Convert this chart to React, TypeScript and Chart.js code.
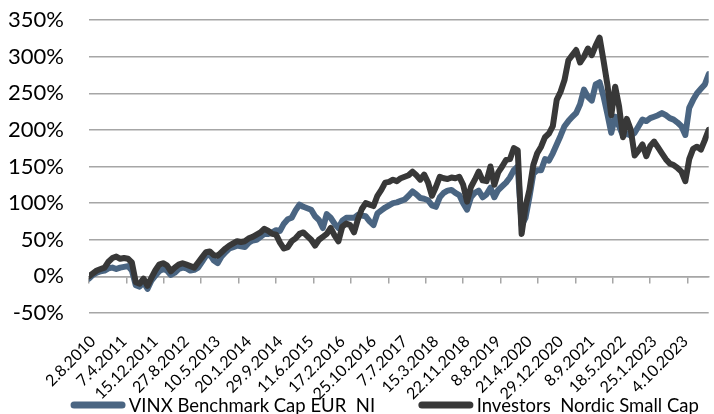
import React, { useEffect, useRef } from "react";
import { Chart, registerables } from "chart.js";

Chart.register(...registerables);

// ---- data ----
const tickLabels = [
  "2.8.2010", "7.4.2011", "15.12.2011", "27.8.2012", "10.5.2013",
  "20.1.2014", "29.9.2014", "11.6.2015", "17.2.2016", "25.10.2016",
  "7.7.2017", "15.3.2018", "22.11.2018", "8.8.2019", "21.4.2020",
  "29.12.2020", "8.9.2021", "18.5.2022", "25.1.2023", "4.10.2023",
];

const seriesNames = ["VINX Benchmark Cap EUR  NI", "Investors  Nordic Small Cap"];

// roughly monthly observations (8 per labelled interval), in %
const vinxValues = [
  -3, 2, 5, 7, 8, 11, 12, 10, 12, 13,
  14, 8, -12, -14, -8, -17, -6, 1, 7, 10,
  8, 2, 5, 10, 12, 11, 8, 9, 12, 20,
  28, 30, 22, 18, 27, 33, 38, 40, 42, 41,
  40, 46, 49, 50, 54, 58, 58, 60, 63, 62,
  72, 78, 80, 90, 98, 95, 93, 91, 82, 77,
  66, 85, 80, 72, 66, 76, 80, 80, 80, 84,
  83, 82, 75, 70, 86, 90, 94, 97, 100, 101,
  103, 105, 110, 116, 112, 107, 106, 104, 97, 95,
  108, 114, 117, 118, 114, 111, 100, 91, 108, 114,
  117, 108, 112, 121, 108, 118, 123, 128, 135, 145,
  150, 70, 80, 108, 140, 145, 145, 160, 158, 168,
  180, 192, 205, 212, 218, 223, 235, 255, 245, 240,
  262, 265, 246, 222, 196, 218, 205, 192, 195, 192,
  196, 205, 214, 212, 216, 218, 220, 223, 220, 216,
  214, 210, 205, 193, 230, 241, 250, 256, 262, 276,
];

const investorsValues = [
  0, 4, 8, 10, 12, 20, 25, 27, 24, 25,
  24, 19, -8, -10, -3, -13, -2, 8, 16, 18,
  15, 7, 12, 16, 18, 16, 14, 12, 19, 26,
  33, 34, 29, 28, 33, 38, 42, 45, 48, 47,
  48, 52, 54, 57, 60, 65, 62, 58, 57, 46,
  38, 40, 48, 52, 58, 60, 55, 50, 42, 50,
  54, 58, 66, 56, 48, 68, 72, 70, 60, 78,
  92, 100, 98, 96, 110, 118, 128, 129, 132, 130,
  134, 136, 138, 143, 138, 132, 139, 128, 110, 122,
  136, 134, 133, 135, 134, 136, 125, 102, 122, 132,
  143, 131, 130, 150, 125, 142, 150, 159, 160, 175,
  172, 58, 95, 118, 152, 168, 177, 190, 195, 205,
  241, 252, 268, 295, 302, 309, 292, 300, 311, 302,
  315, 326, 295, 262, 220, 259, 232, 190, 215, 200,
  165, 172, 180, 164, 178, 184, 176, 168, 160, 154,
  152, 148, 143, 130, 160, 174, 177, 173, 186, 200,
];

const pointsPerLabel = 8;
const axisTickEvery = 1.2; // label intervals between tick marks on the 0% line
const yMin = -50;
const yMax = 350;
const yStep = 50;

// ---- styles ----
const BLUE = "#4a6582";
const DARK = "#383838";
const GRID = "#a6a6a6";
const FONT = "Lato, 'Open Sans', sans-serif";

const LEGEND_CENTER_X = 384.7;
const LEGEND_LINE_Y = 405;
const LEGEND_BASELINE = 411.7;
const LEGEND_FONT_SIZE = 18.5;
const MARKER_W = 55;
const MARKER_GAP = 3.3;
const ITEM_GAP = 43.3;

const legendPlugin = {
  id: "bottomLegend",
  afterDraw(chart: any) {
    const ctx = chart.ctx as CanvasRenderingContext2D;
    const items = chart.data.datasets.map((ds: any) => ({ text: ds.label, color: ds.borderColor }));
    ctx.save();
    ctx.font = `${LEGEND_FONT_SIZE}px ${FONT}`;
    const widths = items.map((it: any) => MARKER_W + MARKER_GAP + ctx.measureText(it.text).width);
    const total = widths.reduce((a: number, b: number) => a + b, 0) + ITEM_GAP * (items.length - 1);
    let x = LEGEND_CENTER_X - total / 2;
    items.forEach((it: any, i: number) => {
      ctx.strokeStyle = it.color;
      ctx.lineWidth = 7;
      ctx.lineCap = "round";
      ctx.beginPath();
      ctx.moveTo(x + 3.5, LEGEND_LINE_Y);
      ctx.lineTo(x + MARKER_W - 3.5, LEGEND_LINE_Y);
      ctx.stroke();
      ctx.fillStyle = "#000";
      ctx.textAlign = "left";
      ctx.textBaseline = "alphabetic";
      ctx.fillText(it.text, x + MARKER_W + MARKER_GAP, LEGEND_BASELINE);
      x += widths[i] + ITEM_GAP;
    });
    ctx.restore();
  },
};

export default function App() {
  const canvasRef = useRef<HTMLCanvasElement | null>(null);

  useEffect(() => {
    const canvas = canvasRef.current;
    if (!canvas) return;
    const toPoints = (vals: number[]) => vals.map((y, i) => ({ x: i / pointsPerLabel, y }));
    const xMax = (vinxValues.length - 1) / pointsPerLabel;

    const lineStyle = {
      borderWidth: 6,
      pointRadius: 0,
      tension: 0,
      borderJoinStyle: "round",
      borderCapStyle: "round",
    };

    const chart = new Chart(canvas, {
      type: "line",
      data: {
        datasets: [
          {
            label: seriesNames[0],
            data: toPoints(vinxValues),
            borderColor: BLUE,
            backgroundColor: BLUE,
            order: 2,
            ...lineStyle,
          },
          {
            label: seriesNames[1],
            data: toPoints(investorsValues),
            borderColor: DARK,
            backgroundColor: DARK,
            order: 1,
            ...lineStyle,
          },
        ],
      },
      options: {
        animation: false,
        responsive: false,
        devicePixelRatio: 1,
        layout: { autoPadding: false, padding: { left: 0, right: 0, top: 20, bottom: 0 } },
        plugins: {
          legend: { display: false },
          tooltip: { enabled: false },
        },
        scales: {
          x: {
            type: "linear",
            min: 0,
            max: xMax,
            grid: { display: false, drawTicks: false },
            border: { display: false },
            afterBuildTicks: (scale: any) => {
              scale.ticks = tickLabels.map((_, i) => ({ value: i }));
            },
            afterFit: (scale: any) => {
              scale.height = 101;
              scale.paddingTop = 0;
              scale.paddingBottom = 0;
            },
            ticks: {
              autoSkip: false,
              minRotation: 45,
              maxRotation: 45,
              padding: 19,
              labelOffset: 4,
              color: "#000",
              font: { family: FONT, size: 16 },
              callback: (_v: any, i: number) => tickLabels[i] ?? "",
            },
          },
          x2: {
            type: "linear",
            position: { y: 0 },
            min: 0,
            max: xMax,
            afterBuildTicks: (scale: any) => {
              const n = Math.floor(xMax / axisTickEvery) + 1;
              scale.ticks = Array.from({ length: n }, (_, k) => ({ value: k * axisTickEvery }));
            },
            ticks: { display: false },
            grid: { drawOnChartArea: false, drawTicks: true, tickLength: 6, color: GRID, lineWidth: 1.5 },
            border: { display: true, color: GRID, width: 1.5 },
          },
          y: {
            min: yMin,
            max: yMax,
            afterFit: (scale: any) => {
              scale.width = 89;
              scale.paddingTop = 0;
              scale.paddingBottom = 0;
            },
            ticks: {
              stepSize: yStep,
              padding: 25,
              color: "#000",
              font: { family: FONT, size: 22 },
              callback: (v: any) => `${v}%`,
            },
            grid: { color: GRID, lineWidth: 1.5, drawTicks: false },
            border: { display: false },
          },
        },
      },
      plugins: [legendPlugin],
    } as any);

    return () => chart.destroy();
  }, []);

  return (
    <div style={{ position: "fixed", left: 0, top: 0, width: 714, height: 414, background: "#fff", overflow: "hidden" }}>
      <canvas ref={canvasRef} width={714} height={414} style={{ display: "block" }} />
    </div>
  );
}
